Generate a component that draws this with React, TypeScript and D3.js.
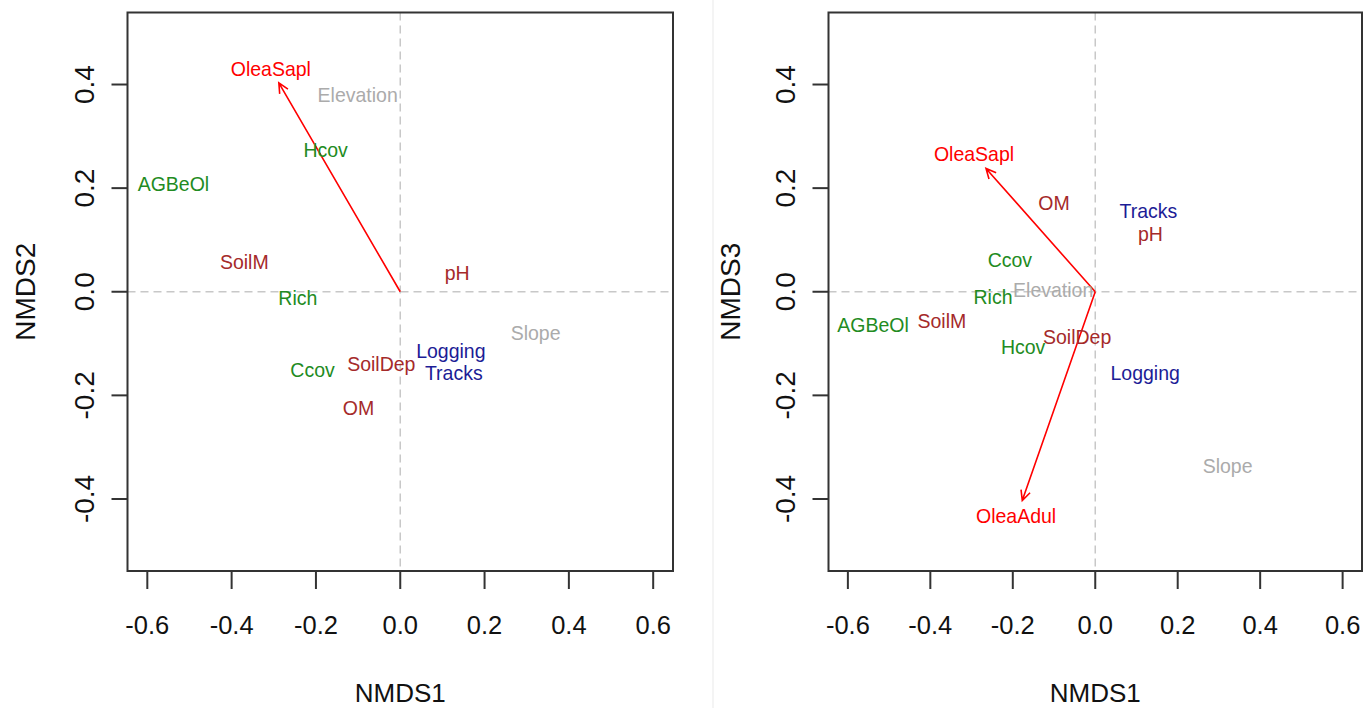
import React, { useEffect, useRef } from "react"
import * as d3 from "d3"

// ordination scores
const namesA = ["OleaSapl", "Elevation", "Hcov", "AGBeOl", "SoilM", "pH", "Rich", "Slope", "Logging", "Tracks", "SoilDep", "Ccov", "OM"]
const groupA = ["species", "topo", "veg", "veg", "soil", "soil", "veg", "topo", "human", "human", "soil", "veg", "soil"]
const nmds1A = [-0.307, -0.101, -0.177, -0.538, -0.37, 0.135, -0.243, 0.321, 0.12, 0.127, -0.045, -0.208, -0.099]
const nmds2A = [0.431, 0.381, 0.275, 0.209, 0.057, 0.037, -0.012, -0.08, -0.113, -0.157, -0.138, -0.15, -0.223]
const arrowX_A = [-0.288]
const arrowY_A = [0.403]

const namesB = ["OleaSapl", "OM", "Tracks", "pH", "Ccov", "Elevation", "Rich", "AGBeOl", "SoilM", "Hcov", "SoilDep", "Logging", "Slope", "OleaAdul"]
const groupB = ["species", "soil", "human", "soil", "veg", "topo", "veg", "veg", "soil", "veg", "soil", "human", "topo", "species"]
const nmds1B = [-0.294, -0.1, 0.129, 0.134, -0.207, -0.102, -0.248, -0.539, -0.372, -0.175, -0.044, 0.121, 0.321, -0.192]
const nmds3B = [0.267, 0.171, 0.157, 0.112, 0.061, 0.003, -0.009, -0.063, -0.055, -0.107, -0.086, -0.157, -0.335, -0.433]
const arrowX_B = [-0.265, -0.177]
const arrowY_B = [0.238, -0.403]

const xTicks = [-0.6, -0.4, -0.2, 0, 0.2, 0.4, 0.6]
const yTicks = [-0.4, -0.2, 0, 0.2, 0.4]

const colours: Record<string, string> = {
  species: "#ff0000",
  topo: "#ababab",
  veg: "#228b22",
  soil: "#a52a2a",
  human: "#1c1c96",
}

const FONT = "'Liberation Sans', Arial, sans-serif"
const LIM_X = 0.647
const LIM_Y = 0.539

function drawPanel(svg, opts) {
  const { left, right, top, bottom, xs, ys, names, groups, ax, ay, yTitle, yTickX, yTitleX } = opts

  const x = d3.scaleLinear().domain([-LIM_X, LIM_X]).range([left, right])
  const y = d3.scaleLinear().domain([-LIM_Y, LIM_Y]).range([bottom, top])
  const g = svg.append("g")

  // zero lines
  g.append("line")
    .attr("x1", x(0)).attr("x2", x(0)).attr("y1", top).attr("y2", bottom)
    .attr("stroke", "#c8c8c8").attr("stroke-width", 1.5).attr("stroke-dasharray", "8,5")
  g.append("line")
    .attr("x1", left).attr("x2", right).attr("y1", y(0)).attr("y2", y(0))
    .attr("stroke", "#c8c8c8").attr("stroke-width", 1.5).attr("stroke-dasharray", "8,5")

  // box
  g.append("rect")
    .attr("x", left).attr("y", top).attr("width", right - left).attr("height", bottom - top)
    .attr("fill", "none").attr("stroke", "#333").attr("stroke-width", 2)

  // x axis
  g.selectAll(".xt").data(xTicks).enter().append("line")
    .attr("x1", d => x(d)).attr("x2", d => x(d)).attr("y1", bottom).attr("y2", bottom + 18)
    .attr("stroke", "#333").attr("stroke-width", 2)
  g.selectAll(".xl").data(xTicks).enter().append("text")
    .attr("x", d => x(d)).attr("y", 625)
    .attr("text-anchor", "middle").attr("dominant-baseline", "central")
    .attr("font-family", FONT).attr("font-size", 25.5).attr("fill", "#111")
    .text(d => d.toFixed(1))

  // y axis
  g.selectAll(".yt").data(yTicks).enter().append("line")
    .attr("x1", left - 16).attr("x2", left).attr("y1", d => y(d)).attr("y2", d => y(d))
    .attr("stroke", "#333").attr("stroke-width", 2)
  g.selectAll(".yl").data(yTicks).enter().append("text")
    .attr("transform", d => `translate(${yTickX},${y(d)}) rotate(-90)`)
    .attr("text-anchor", "middle").attr("dominant-baseline", "central")
    .attr("font-family", FONT).attr("font-size", 28).attr("fill", "#111")
    .text(d => d.toFixed(1))

  // titles
  g.append("text")
    .attr("x", x(0)).attr("y", 693)
    .attr("text-anchor", "middle").attr("dominant-baseline", "central")
    .attr("font-family", FONT).attr("font-size", 26).attr("fill", "#111")
    .text("NMDS1")
  g.append("text")
    .attr("transform", `translate(${yTitleX},${y(0)}) rotate(-90)`)
    .attr("text-anchor", "middle").attr("dominant-baseline", "central")
    .attr("font-family", FONT).attr("font-size", 28).attr("fill", "#111")
    .text(yTitle)

  // arrows from the origin
  ax.forEach((vx, i) => {
    const x1 = x(vx), y1 = y(ay[i])
    const x0 = x(0), y0 = y(0)
    const ang = Math.atan2(y1 - y0, x1 - x0)
    const len = 11, spread = Math.PI / 7
    const p = d3.path()
    p.moveTo(x0, y0)
    p.lineTo(x1, y1)
    p.moveTo(x1 - len * Math.cos(ang - spread), y1 - len * Math.sin(ang - spread))
    p.lineTo(x1, y1)
    p.lineTo(x1 - len * Math.cos(ang + spread), y1 - len * Math.sin(ang + spread))
    g.append("path").attr("d", p.toString())
      .attr("fill", "none").attr("stroke", colours.species).attr("stroke-width", 1.6)
  })

  // labels
  g.selectAll(".lab").data(names).enter().append("text")
    .attr("transform", (d, i) => `translate(${x(xs[i])},${y(ys[i])}) scale(1,1.08)`)
    .attr("text-anchor", "middle").attr("dominant-baseline", "central")
    .attr("font-family", FONT).attr("font-size", 19.5)
    .attr("fill", (d, i) => colours[groups[i]])
    .text(d => d)
}

export default function App() {
  const ref = useRef<SVGSVGElement>(null)

  useEffect(() => {
    const svg = d3.select(ref.current)
    svg.selectAll("*").remove()
    svg.append("rect").attr("width", 1372).attr("height", 708).attr("fill", "#fff")
    // faint edge where the second figure was pasted in
    svg.append("line").attr("x1", 713).attr("x2", 713).attr("y1", 0).attr("y2", 708)
      .attr("stroke", "#f0f0f0").attr("stroke-width", 1.5)

    drawPanel(svg, {
      left: 127.5, right: 673, top: 12.5, bottom: 571,
      xs: nmds1A, ys: nmds2A, names: namesA, groups: groupA,
      ax: arrowX_A, ay: arrowY_A, yTitle: "NMDS2", yTickX: 84, yTitleX: 25,
    })
    drawPanel(svg, {
      left: 828.5, right: 1362, top: 12.5, bottom: 571,
      xs: nmds1B, ys: nmds3B, names: namesB, groups: groupB,
      ax: arrowX_B, ay: arrowY_B, yTitle: "NMDS3", yTickX: 785, yTitleX: 730,
    })
  }, [])

  return (
    <div style={{ position: "fixed", left: 0, top: 0 }}>
      <svg ref={ref} width={1372} height={708} style={{ display: "block" }} />
    </div>
  )
}
